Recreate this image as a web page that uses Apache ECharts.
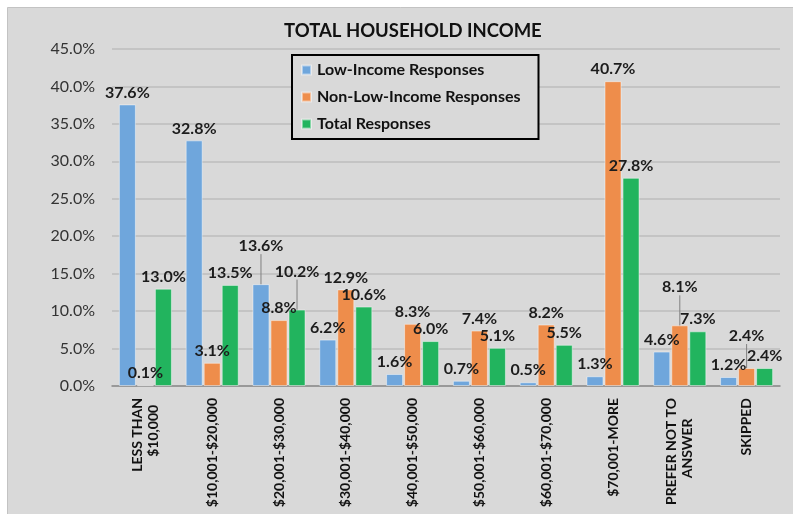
<!DOCTYPE html>
<html>
<head>
<meta charset="utf-8">
<script src="https://cdn.jsdelivr.net/npm/echarts@6/dist/echarts.min.js"></script>
<style>
  html, body { margin: 0; padding: 0; background: #fff; }
  #chart { width: 793px; height: 514px; }
</style>
</head>
<body>
<div id="chart"></div>
<script>
// categories and values (percent)
const categories = [
  'LESS THAN\n$10,000  ', '$10,001-$20,000', '$20,001-$30,000', '$30,001-$40,000',
  '$40,001-$50,000', '$50,001-$60,000', '$60,001-$70,000', '$70,001-MORE',
  'PREFER NOT TO\nANSWER      ', 'SKIPPED'
];
const seriesNames = ['Low-Income Responses', 'Non-Low-Income Responses', 'Total Responses'];
const lowIncome = [37.6, 32.8, 13.6, 6.2, 1.6, 0.7, 0.5, 1.3, 4.6, 1.2];
const nonLowIncome = [0.1, 3.1, 8.8, 12.9, 8.3, 7.4, 8.2, 40.7, 8.1, 2.4];
const totalResp = [13.0, 13.5, 10.2, 10.6, 6.0, 5.1, 5.5, 27.8, 7.3, 2.4];
const yTicks = [0, 5, 10, 15, 20, 25, 30, 35, 40, 45];

const colors = ['#6fa6dc', '#ee8d4b', '#22b45e'];
// labels that were dragged upward in the original (with leader lines)
const labelShift = [
  { 2: 26 },
  { 8: 26, 9: 20 },
  { 2: 26 }
];

const myChart = echarts.init(document.getElementById('chart'));
const font = 'Lato, "DejaVu Sans", sans-serif';

function makeSeries (idx, values) {
  return {
    name: seriesNames[idx],
    type: 'bar',
    barWidth: 17,
    barGap: '6%',
    itemStyle: {
      color: colors[idx],
      borderColor: 'rgba(255,255,255,0.45)',
      borderWidth: 1
    },
    label: {
      show: true,
      position: 'top',
      distance: 4,
      color: '#1c1c1c',
      fontFamily: font,
      fontWeight: 'bold',
      fontSize: 16,
      formatter: p => p.value.toFixed(1) + '%'
    },
    labelLine: {
      show: false,
      lineStyle: { color: '#808080', width: 1 }
    },
    labelLayout: p => {
      const dy = labelShift[idx][p.dataIndex];
      return dy ? { dy: -dy } : {};
    },
    data: values.map((v, i) => labelShift[idx][i]
      ? { value: v, labelLine: { show: true } }
      : v)
  };
}

const option = {
  backgroundColor: '#fff',
  animation: false,
  color: colors,
  graphic: [{
    type: 'rect',
    z: -10,
    shape: { x: 7.5, y: 7.5, width: 800, height: 520 },
    style: { fill: '#d9d9d9', stroke: '#c3c3c3', lineWidth: 1 }
  }],
  title: {
    text: 'TOTAL HOUSEHOLD INCOME',
    left: 279,
    top: 17,
    textStyle: {
      fontFamily: font,
      fontWeight: 'bold',
      fontSize: 18.5,
      color: '#111'
    }
  },
  legend: {
    orient: 'vertical',
    left: 292,
    top: 55,
    padding: [7, 18, 7, 9],
    itemGap: 11,
    itemWidth: 9,
    itemHeight: 9,
    icon: 'rect',
    borderColor: '#000',
    borderWidth: 2,
    backgroundColor: '#d9d9d9',
    textStyle: {
      fontFamily: font,
      fontWeight: 'bold',
      fontSize: 16,
      color: '#111',
      padding: [0, 0, 0, 1]
    },
    data: seriesNames
  },
  grid: {
    left: 112,
    right: 13,
    top: 49,
    bottom: 128,
    containLabel: false,
    outerBoundsMode: 'none'
  },
  xAxis: {
    type: 'category',
    data: categories,
    axisLine: { lineStyle: { color: '#8a8a8a', width: 1.5 } },
    axisTick: { show: false },
    axisLabel: {
      interval: 0,
      rotate: 90,
      margin: 12,
      fontFamily: font,
      fontWeight: 'bold',
      fontSize: 14,
      lineHeight: 16,
      color: '#111'
    }
  },
  yAxis: {
    type: 'value',
    min: yTicks[0],
    max: yTicks[yTicks.length - 1],
    interval: 5,
    axisLine: { show: false },
    axisTick: { show: false },
    splitLine: { lineStyle: { color: '#bdbdbd', width: 1.5 } },
    axisLabel: {
      margin: 17,
      fontFamily: font,
      fontSize: 16,
      color: '#333',
      formatter: v => v.toFixed(1) + '%'
    }
  },
  series: [
    makeSeries(0, lowIncome),
    makeSeries(1, nonLowIncome),
    makeSeries(2, totalResp)
  ]
};

myChart.setOption(option);
</script>
</body>
</html>
